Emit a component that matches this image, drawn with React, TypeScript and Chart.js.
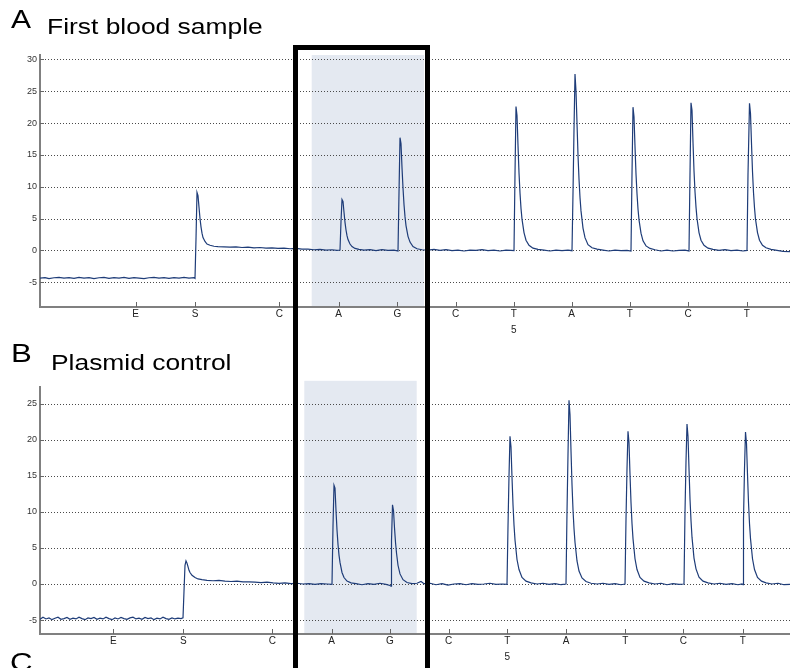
import React, { useEffect, useRef } from 'react';
import { Chart, registerables } from 'chart.js';

Chart.register(...registerables);

// ---------- data ----------
const dispensationLabels = ['E', 'S', 'C', 'A', 'G', 'C', 'T', 'A', 'T', 'C', 'T'];
const positionMarkIndex = 6;
const positionMarkLabel = '5';

const timeRange = [0, 750];

const tickTimesA = [95.7, 155, 239.3, 298.7, 357.3, 415.7, 473.7, 531.7, 589.7, 648, 706.7];
const tickTimesB = [73.3, 143.3, 232.3, 291.7, 350, 408.7, 467.3, 526, 585.3, 643.3, 702.7];

const yTicksA = [-5, 0, 5, 10, 15, 20, 25, 30];
const yTicksB = [-5, 0, 5, 10, 15, 20, 25];
const yRangeA = [-8.9, 30.7];
const yRangeB = [-6.94, 27.3];

// highlighted region: [start time, end time, top value]
const shadeA = [271.7, 384, 30.7];
const shadeB = [264.3, 376.7, 28.2];

// Panel A trace: [time, signal]
const traceA_baseline = [
  [0, -4.35], [5, -4.3], [9, -4.45], [14, -4.3], [19, -4.25], [24, -4.35], [29, -4.3], [34, -4.4],
  [39, -4.25], [44, -4.35], [49, -4.3], [54, -4.45], [59, -4.3], [64, -4.25], [69, -4.4], [74, -4.3],
  [79, -4.35], [84, -4.25], [89, -4.4], [94, -4.3], [99, -4.35], [104, -4.45], [109, -4.3], [114, -4.25],
  [119, -4.35], [124, -4.3], [129, -4.4], [134, -4.3], [139, -4.35], [144, -4.25], [149, -4.35], [154, -4.3],
];
const traceA_S = [
  [155, -4.4], [156, 1.8], [157, 9.1], [158, 8.6], [159, 6.8], [160, 5.0], [161, 3.7], [162, 2.7], [163, 2.0],
  [165, 1.4], [167, 1.0], [170, 0.8], [174, 0.65], [178, 0.6], [184, 0.55], [190, 0.5], [196, 0.55], [202, 0.45],
  [208, 0.5], [214, 0.4], [220, 0.45], [226, 0.35], [232, 0.4], [238, 0.3], [244, 0.35], [250, 0.25], [256, 0.3],
  [262, 0.2], [268, 0.2], [274, 0.1], [280, 0.15], [286, 0.05], [292, 0.1], [297, 0.0], [300, 0.05],
];
const traceA_A = [
  [301, 4.5], [302, 8.0], [303, 7.7], [304, 6.0], [305, 4.4], [306, 3.2], [307, 2.3], [308, 1.7], [310, 1.0],
  [312, 0.6], [315, 0.3], [319, 0.15], [324, 0.05], [330, 0.1], [336, -0.05], [342, 0.1], [348, 0.0], [354, 0.05], [358, -0.1],
];
const traceA_G = [
  [359, 9], [360, 17.7], [361, 16.8], [362, 13.0], [363, 9.8], [364, 7.2], [365, 5.3], [366, 3.9], [368, 2.2],
  [370, 1.3], [373, 0.6], [377, 0.25], [382, 0.1], [388, 0.05], [394, 0.15], [400, 0.0], [406, 0.1], [412, -0.05],
  [418, 0.05], [424, -0.1], [430, 0.05], [436, 0.0], [442, 0.1], [448, -0.05], [454, 0.05], [460, -0.1], [466, 0.05],
  [471, 0.0], [474, -0.05],
];
const traceA_T1 = [
  [475, 12], [476, 22.6], [477, 21.2], [478, 16.5], [479, 12.2], [480, 9.0], [481, 6.6], [482, 4.9], [484, 2.8],
  [486, 1.6], [489, 0.8], [493, 0.35], [498, 0.15], [504, 0.05], [510, -0.1], [516, 0.05], [522, -0.05], [528, 0.05], [532, -0.05],
];
const traceA_A2 = [
  [533, 9], [534, 19], [535, 27.7], [536, 25], [537, 20], [538, 15], [539, 11.2], [540, 8.3], [541, 6.2],
  [543, 3.5], [545, 2.0], [548, 0.9], [552, 0.4], [557, 0.2], [563, 0.05], [569, -0.1], [575, 0.05], [581, -0.05], [587, 0.0], [591, -0.1],
];
const traceA_T2 = [
  [592, 12], [593, 22.5], [594, 21.0], [595, 16.3], [596, 12.0], [597, 8.9], [598, 6.5], [599, 4.8], [601, 2.7],
  [603, 1.5], [606, 0.7], [610, 0.3], [615, 0.1], [621, -0.1], [627, 0.05], [633, -0.1], [639, 0.0], [645, 0.05], [649, -0.1],
];
const traceA_C = [
  [650, 12], [651, 23.2], [652, 22.0], [653, 17.0], [654, 12.5], [655, 9.2], [656, 6.8], [657, 5.0], [659, 2.8],
  [661, 1.6], [664, 0.8], [668, 0.35], [673, 0.15], [679, 0.0], [685, 0.1], [691, -0.05], [697, 0.05], [703, -0.1], [707, 0.0],
];
const traceA_T3 = [
  [708, 12], [709.5, 23.1], [710.5, 21.5], [711.5, 16.8], [712.5, 12.4], [713.5, 9.1], [714.5, 6.7], [715.5, 4.9],
  [717.5, 2.8], [719.5, 1.6], [722.5, 0.8], [726, 0.4], [731, 0.15], [737, 0.0], [743, -0.15], [750, -0.2],
];

// Panel B trace: [time, signal]
const traceB_baseline = [
  [0, -4.9], [3, -4.6], [6, -4.85], [9, -4.7], [12, -4.95], [15, -4.75], [18, -4.6], [21, -4.9], [24, -4.8],
  [27, -4.65], [30, -4.9], [33, -4.75], [36, -4.85], [39, -4.6], [42, -4.8], [45, -4.95], [48, -4.7], [51, -4.8],
  [54, -4.65], [57, -4.9], [60, -4.75], [63, -4.85], [66, -4.6], [69, -4.8], [72, -4.95], [75, -4.7], [78, -4.85],
  [81, -4.65], [84, -4.8], [87, -4.9], [90, -4.7], [93, -4.6], [96, -4.85], [99, -4.75], [102, -4.9], [105, -4.65],
  [108, -4.8], [111, -4.7], [114, -4.95], [117, -4.75], [120, -4.85], [123, -4.6], [126, -4.8], [129, -4.9],
  [132, -4.7], [135, -4.85], [138, -4.75], [141, -4.8], [143, -4.7],
];
const traceB_S = [
  [144, -1.0], [145, 2.6], [146, 3.2], [147, 2.9], [148, 2.4], [149, 1.9], [150, 1.6], [152, 1.2], [155, 0.9],
  [158, 0.7], [162, 0.6], [167, 0.5], [173, 0.45], [179, 0.5], [185, 0.4], [191, 0.35], [197, 0.4], [203, 0.3],
  [209, 0.3], [215, 0.25], [221, 0.2], [227, 0.25], [233, 0.15], [239, 0.1], [245, 0.15], [251, 0.05], [257, 0.1],
  [263, 0.0], [269, 0.05], [275, -0.05], [281, 0.05], [287, 0.0], [292, -0.05],
];
const traceB_A = [
  [293, 8], [294, 13.7], [295, 13.3], [296, 10.2], [297, 7.5], [298, 5.5], [299, 4.0], [300, 3.0], [302, 1.6],
  [304, 0.9], [307, 0.4], [311, 0.15], [316, 0.05], [322, -0.1], [328, 0.05], [334, -0.05], [340, 0.1], [346, -0.05], [350, -0.2],
];
const traceB_G = [
  [351, -0.3], [351.5, 6], [352.5, 11], [353.5, 10.2], [354.5, 7.8], [355.5, 5.8], [356.5, 4.3], [358, 2.6],
  [360, 1.4], [363, 0.6], [367, 0.2], [372, 0.05], [377, 0.1], [381, 0.35], [384, 0.05], [390, 0.1], [396, -0.1],
  [402, 0.05], [408, -0.15], [414, 0.0], [420, 0.05], [426, -0.1], [432, 0.05], [438, -0.05], [444, 0.0], [450, 0.1],
  [456, -0.05], [462, 0.0], [467, -0.05],
];
const traceB_T1 = [
  [468, 8], [469, 15], [470, 20.5], [471, 19], [472, 14.8], [473, 11], [474, 8.2], [475, 6.1], [477, 3.4],
  [479, 2.0], [482, 0.9], [486, 0.4], [491, 0.15], [497, 0.0], [503, 0.1], [509, -0.05], [515, 0.05], [521, -0.1], [526, 0.0],
];
const traceB_A2 = [
  [527, 10], [528, 18], [529, 25.5], [530, 23.5], [531, 18.5], [532, 13.8], [533, 10.3], [534, 7.7], [535, 5.8],
  [537, 3.2], [539, 1.8], [542, 0.85], [546, 0.35], [551, 0.1], [557, 0.0], [563, 0.1], [569, -0.05], [575, 0.05], [581, -0.1], [585, 0.0],
];
const traceB_T2 = [
  [586, 9], [587, 16], [588, 21.2], [589, 19.6], [590, 15.2], [591, 11.3], [592, 8.4], [593, 6.3], [595, 3.5],
  [597, 2.0], [600, 0.9], [604, 0.4], [609, 0.15], [615, 0.0], [621, 0.1], [627, -0.1], [633, 0.05], [639, -0.05], [644, 0.0],
];
const traceB_C = [
  [645, 10], [646, 17], [647, 22.2], [648, 20.5], [649, 16], [650, 11.8], [651, 8.8], [652, 6.5], [654, 3.6],
  [656, 2.1], [659, 0.95], [663, 0.4], [668, 0.15], [674, 0.0], [680, 0.1], [686, -0.05], [692, 0.05], [698, -0.1], [702, 0.0],
];
const traceB_T3 = [
  [703, -0.1], [703.5, 9], [704.5, 16], [705.5, 21.1], [706.5, 19.5], [707.5, 15.2], [708.5, 11.3], [709.5, 8.4],
  [710.5, 6.3], [712.5, 3.5], [714.5, 2.0], [717.5, 0.9], [721.5, 0.4], [726, 0.15], [732, 0.0], [738, 0.1], [744, -0.1], [750, -0.05],
];

const traceA = [
  ...traceA_baseline, ...traceA_S, ...traceA_A, ...traceA_G, ...traceA_T1,
  ...traceA_A2, ...traceA_T2, ...traceA_C, ...traceA_T3,
];
const traceB = [
  ...traceB_baseline, ...traceB_S, ...traceB_A, ...traceB_G, ...traceB_T1,
  ...traceB_A2, ...traceB_T2, ...traceB_C, ...traceB_T3,
];

// ---------- styling ----------
const FONT = '"Liberation Sans", Arial, Helvetica, sans-serif';
const LINE_COLOR = '#1e3c78';
const AXIS_COLOR = '#808080';
const SHADE_COLOR = '#e4e9f1';

const decorPlugin = {
  id: 'pyroDecor',
  beforeDraw(chart: any, _args: any, opts: any) {
    const { ctx, chartArea, scales } = chart;
    const x = scales.x;
    const y = scales.y;
    ctx.save();
    ctx.fillStyle = SHADE_COLOR;
    const x0 = x.getPixelForValue(opts.shade[0]);
    const x1 = x.getPixelForValue(opts.shade[1]);
    const yTop = y.getPixelForValue(opts.shade[2]);
    ctx.fillRect(x0, yTop, x1 - x0, chartArea.bottom - yTop);
    ctx.restore();
  },
  beforeDatasetsDraw(chart: any, _args: any, opts: any) {
    const { ctx, chartArea, scales } = chart;
    const x = scales.x;
    const y = scales.y;
    ctx.save();
    ctx.lineWidth = 1;
    ctx.strokeStyle = '#4a4a4a';
    ctx.setLineDash([1, 2]);
    for (const v of opts.yTicks) {
      const py = Math.round(y.getPixelForValue(v)) + 0.5;
      ctx.beginPath();
      ctx.moveTo(chartArea.left + 2, py);
      ctx.lineTo(chartArea.right, py);
      ctx.stroke();
    }
    ctx.setLineDash([]);
    ctx.strokeStyle = '#666';
    for (const v of opts.yTicks) {
      const py = Math.round(y.getPixelForValue(v)) + 0.5;
      ctx.beginPath();
      ctx.moveTo(chartArea.left, py);
      ctx.lineTo(chartArea.left + 4, py);
      ctx.stroke();
    }
    for (const t of opts.xTicks) {
      const px = Math.round(x.getPixelForValue(t)) + 0.5;
      ctx.beginPath();
      ctx.moveTo(px, chartArea.bottom);
      ctx.lineTo(px, chartArea.bottom - 5);
      ctx.stroke();
    }
    ctx.restore();
  },
};

type PanelProps = {
  top: number;
  height: number;
  padTop: number;
  axisHeight: number;
  tickTimes: number[];
  yTicks: number[];
  yRange: number[];
  shade: number[];
  trace: number[][];
};

function PyroPanel(p: PanelProps) {
  const ref = useRef<HTMLCanvasElement | null>(null);
  useEffect(() => {
    if (!ref.current) return;
    const chart = new Chart(ref.current, {
      type: 'line',
      data: {
        datasets: [
          {
            data: p.trace.map(([t, v]) => ({ x: t, y: v })),
            borderColor: LINE_COLOR,
            borderWidth: 1.2,
            pointRadius: 0,
            tension: 0,
            fill: false,
          },
        ],
      },
      options: {
        animation: false,
        responsive: false,
        devicePixelRatio: 1,
        layout: { padding: { top: p.padTop, left: 0, right: 0, bottom: 0 } },
        plugins: {
          legend: { display: false },
          tooltip: { enabled: false },
          pyroDecor: { shade: p.shade, yTicks: p.yTicks, xTicks: p.tickTimes },
        } as any,
        scales: {
          x: {
            type: 'linear',
            min: timeRange[0],
            max: timeRange[1],
            afterBuildTicks: (scale: any) => {
              scale.ticks = p.tickTimes.map((v) => ({ value: v }));
            },
            afterFit: (scale: any) => {
              scale.height = p.axisHeight;
            },
            ticks: {
              autoSkip: false,
              maxRotation: 0,
              minRotation: 0,
              padding: -1,
              color: '#222',
              font: { family: FONT, size: 10, lineHeight: 1.6 },
              callback: (_v: any, i: number) =>
                i === positionMarkIndex
                  ? [dispensationLabels[i], positionMarkLabel]
                  : dispensationLabels[i],
            },
            grid: { display: false, drawTicks: false },
            border: { display: true, color: AXIS_COLOR, width: 2 },
          },
          y: {
            type: 'linear',
            min: p.yRange[0],
            max: p.yRange[1],
            afterBuildTicks: (scale: any) => {
              scale.ticks = p.yTicks.map((v) => ({ value: v }));
            },
            afterFit: (scale: any) => {
              scale.width = 40;
            },
            ticks: {
              padding: 3,
              color: '#333',
              font: { family: FONT, size: 9 },
              callback: (v: any) => String(v),
            },
            grid: { display: false, drawTicks: false },
            border: { display: true, color: AXIS_COLOR, width: 2 },
          },
        },
      },
      plugins: [decorPlugin],
    } as any);
    return () => chart.destroy();
  }, []);
  return (
    <canvas
      ref={ref}
      width={790}
      height={p.height}
      style={{ position: 'absolute', left: 0, top: p.top, width: 790, height: p.height }}
    />
  );
}

const titleStyle = (left: number, top: number, size: number): React.CSSProperties => ({
  position: 'absolute',
  left,
  top,
  fontFamily: FONT,
  fontSize: size,
  lineHeight: 1,
  color: '#000',
  whiteSpace: 'nowrap',
  transform: 'scaleX(1.2)',
  transformOrigin: 'left top',
});

export default function App() {
  return (
    <div
      style={{
        position: 'absolute',
        left: 0,
        top: 0,
        width: 790,
        height: 668,
        overflow: 'hidden',
        background: '#fff',
      }}
    >
      <PyroPanel
        top={0}
        height={340}
        padTop={55}
        axisHeight={33}
        tickTimes={tickTimesA}
        yTicks={yTicksA}
        yRange={yRangeA}
        shade={shadeA}
        trace={traceA}
      />
      <PyroPanel
        top={340}
        height={328}
        padTop={47.3}
        axisHeight={34}
        tickTimes={tickTimesB}
        yTicks={yTicksB}
        yRange={yRangeB}
        shade={shadeB}
        trace={traceB}
      />
      <div style={titleStyle(11, 6.7, 25)}>A</div>
      <div style={titleStyle(46.5, 16.2, 22)}>First blood sample</div>
      <div style={titleStyle(11, 340, 26)}>B</div>
      <div style={titleStyle(51, 352, 22)}>Plasmid control</div>
      <div style={titleStyle(10, 648.5, 26)}>C</div>
      <div
        style={{
          position: 'absolute',
          left: 292.7,
          top: 45,
          width: 137.3,
          height: 700,
          border: '5.5px solid #000',
          boxSizing: 'border-box',
        }}
      />
    </div>
  );
}
